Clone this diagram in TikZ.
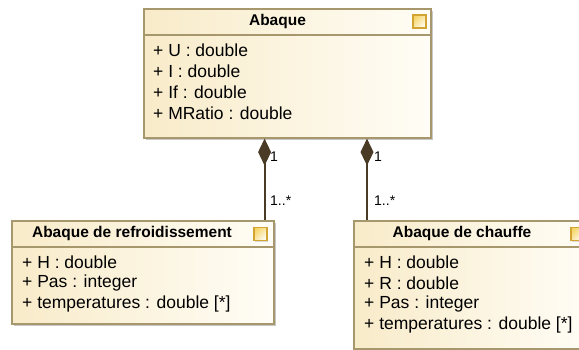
\documentclass[tikz,border=0pt]{standalone}
\usepackage{fontspec}
\setmainfont{Liberation Sans}
\usetikzlibrary{arrows.meta,shadows}
\definecolor{boxline}{HTML}{A6976C}
\definecolor{boxfill}{HTML}{F8EBC9}
\definecolor{boxlight}{HTML}{FFFDF6}
\definecolor{linkcol}{HTML}{4A3B27}
\definecolor{iconline}{HTML}{D2A431}
\definecolor{iconfill}{HTML}{F6D66A}
\begin{document}
\begin{tikzpicture}[x=1pt,y=-1pt,
  classbox/.style={draw=boxline, line width=1.6pt, left color=boxfill, right color=boxlight, anchor=north west, inner sep=0pt,
    drop shadow={shadow xshift=2.5pt, shadow yshift=-2.5pt, fill=black!22, opacity=1}},
  boxsep/.style={draw=boxline, line width=1.6pt},
  classtitle/.style={font=\fontsize{15.5}{18}\selectfont\bfseries, inner sep=0pt},
  attr/.style={font=\fontsize{17.5}{21}\selectfont, anchor=west, inner sep=0pt},
  mult/.style={font=\fontsize{14}{16}\selectfont, anchor=west, inner sep=0pt},
  icon/.style={draw=iconline, line width=1.2pt, left color=iconfill, right color=white!90!iconfill, shading angle=45, minimum size=13pt, inner sep=0pt,
    drop shadow={shadow xshift=1.2pt, shadow yshift=-1.2pt, fill=black!15, opacity=1}},
  comp/.style={draw=linkcol, line width=2pt, {Diamond[length=27pt, width=13pt, fill=linkcol]}-}]
\clip (0,0) rectangle (579,350);
\node[classbox, minimum width=287pt, minimum height=129pt] (abaque) at (143,8) {};
\draw[boxsep] ([yshift=-27pt]abaque.north west) -- ([yshift=-27pt]abaque.north east);
\node[classtitle] (abaqueT) at (277.5,21) {Abaque};
\node[icon] (abaqueI) at (419.5,21.5) {};
\node[attr] (abaqueU) at (153,50) {+ U : double};
\node[attr] (abaqueI1) at (153,71) {+ I : double};
\node[attr] (abaqueIf) at (153,92) {+ If : double};
\node[attr] (abaqueM) at (153,113) {+ MRatio : double};
\node[classbox, minimum width=262pt, minimum height=103pt] (refr) at (11,220) {};
\draw[boxsep] ([yshift=-27pt]refr.north west) -- ([yshift=-27pt]refr.north east);
\node[classtitle] (refrT) at (132,233) {Abaque de refroidissement};
\node[icon] (refrI) at (260.5,234) {};
\node[attr] (refrH) at (22,262) {+ H : double};
\node[attr] (refrP) at (22,283) {+ Pas : integer};
\node[attr] (refrTe) at (22,304) {+ temperatures : double [*]};
\node[classbox, minimum width=237pt, minimum height=128pt] (chauf) at (353,220) {};
\draw[boxsep] ([yshift=-27pt]chauf.north west) -- ([yshift=-27pt]chauf.north east);
\node[classtitle] (chaufT) at (462,233) {Abaque de chauffe};
\node[icon] (chaufI) at (577.5,234) {};
\node[attr] (chaufH) at (364,262) {+ H : double};
\node[attr] (chaufR) at (364,283) {+ R : double};
\node[attr] (chaufP) at (364,304) {+ Pas : integer};
\node[attr] (chaufTe) at (364,325) {+ temperatures : double [*]};
\draw[comp] ([xshift=-10pt]refr.north east |- abaque.south) -- ([xshift=-10pt]refr.north east);
\draw[comp] ([xshift=14pt]chauf.north west |- abaque.south) -- ([xshift=14pt]chauf.north west);
\node[mult] (m1) at (270,157) {1};
\node[mult] (m2) at (270,201) {1..*};
\node[mult] (m3) at (374,157) {1};
\node[mult] (m4) at (374,201) {1..*};
\end{tikzpicture}
\end{document}
